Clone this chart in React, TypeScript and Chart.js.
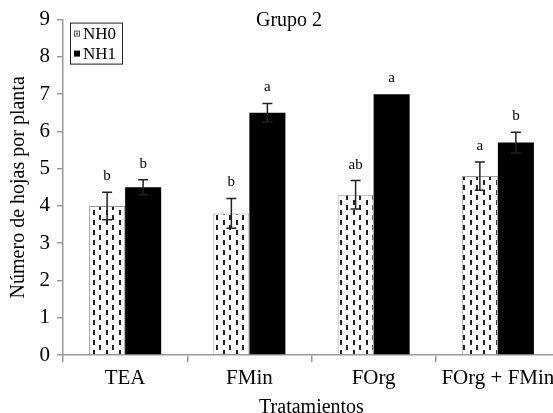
import React, { useEffect, useRef } from "react";
import { Chart, registerables } from "chart.js";

Chart.register(...registerables);

const categories = ["TEA", "FMin", "FOrg", "FOrg + FMin"];
const nh0Values = [4.0, 3.8, 4.3, 4.8];
const nh1Values = [4.5, 6.5, 7.0, 5.7];
const nh0Errors = [0.37, 0.4, 0.38, 0.38];
const nh1Errors = [0.2, 0.25, 0, 0.28];
const nh0Letters = ["b", "b", "ab", "a"];
const nh1Letters = ["b", "a", "a", "b"];
const seriesNames = ["NH0", "NH1"];
const chartTitle = "Grupo 2";
const yTitle = "Número de hojas por planta";
const xTitle = "Tratamientos";

const FONT = "'Liberation Serif', 'Times New Roman', serif";

function makePattern(): CanvasPattern | string {
  const c = document.createElement("canvas");
  c.width = 13;
  c.height = 10;
  const ctx = c.getContext("2d");
  if (!ctx) return "#fff";
  ctx.fillStyle = "#ffffff";
  ctx.fillRect(0, 0, 13, 10);
  ctx.fillStyle = "#222222";
  ctx.fillRect(2, 0, 2, 5);
  ctx.fillRect(8, 5, 2, 5);
  return ctx.createPattern(c, "repeat") || "#fff";
}

export default function App() {
  const ref = useRef<HTMLCanvasElement | null>(null);

  useEffect(() => {
    if (!ref.current) return;
    const pattern = makePattern();
    const errors = [nh0Errors, nh1Errors];
    const letters = [nh0Letters, nh1Letters];

    const overlay = {
      id: "overlay",
      afterDatasetsDraw(chart: any) {
        const ctx = chart.ctx;
        const y = chart.scales.y;
        const area = chart.chartArea;
        ctx.save();
        chart.data.datasets.forEach((ds: any, di: number) => {
          const meta = chart.getDatasetMeta(di);
          meta.data.forEach((el: any, i: number) => {
            const v = ds.data[i];
            const e = errors[di][i];
            const x = el.x;
            const yTop = y.getPixelForValue(v + e);
            const yBot = y.getPixelForValue(v - e);
            if (e > 0) {
              ctx.strokeStyle = "#222";
              ctx.lineWidth = 1.5;
              ctx.beginPath();
              ctx.moveTo(x, yTop);
              ctx.lineTo(x, yBot);
              ctx.moveTo(x - 5, yTop);
              ctx.lineTo(x + 5, yTop);
              ctx.moveTo(x - 5, yBot);
              ctx.lineTo(x + 5, yBot);
              ctx.stroke();
            }
            ctx.fillStyle = "#000";
            ctx.font = `15px ${FONT}`;
            ctx.textAlign = "center";
            ctx.textBaseline = "alphabetic";
            ctx.fillText(letters[di][i], x, yTop - 12);
          });
        });
        ctx.fillStyle = "#000";
        ctx.font = `20px ${FONT}`;
        ctx.textAlign = "center";
        ctx.textBaseline = "middle";
        ctx.fillText(chartTitle, area.left + 226, area.top + 1);
        const bx = area.left + 7;
        const by = area.top + 3;
        const bw = 52;
        const bh = 41;
        ctx.fillStyle = "#fff";
        ctx.fillRect(bx, by, bw, bh);
        ctx.strokeStyle = "#222";
        ctx.lineWidth = 1;
        ctx.strokeRect(bx + 0.5, by + 0.5, bw, bh);
        ctx.font = `17px ${FONT}`;
        ctx.textAlign = "left";
        ctx.textBaseline = "middle";
        seriesNames.forEach((n, i) => {
          const cy = by + 11 + i * 20;
          if (i === 0) {
            ctx.fillStyle = "#fff";
            ctx.fillRect(bx + 4, cy - 3, 6, 6);
            ctx.strokeStyle = "#555";
            ctx.strokeRect(bx + 4.5, cy - 2.5, 5, 5);
            ctx.fillStyle = "#555";
            ctx.fillRect(bx + 6, cy - 1, 2, 2);
          } else {
            ctx.fillStyle = "#000";
            ctx.fillRect(bx + 4, cy - 3, 6, 6);
          }
          ctx.fillStyle = "#000";
          ctx.fillText(n, bx + 13, cy + 1);
        });
        ctx.restore();
      },
    };

    const chart = new Chart(ref.current, {
      type: "bar",
      data: {
        labels: categories,
        datasets: [
          {
            label: seriesNames[0],
            data: nh0Values,
            backgroundColor: pattern as any,
            borderColor: "#999",
            borderWidth: 1,
            categoryPercentage: 0.58,
            barPercentage: 1.0,
          },
          {
            label: seriesNames[1],
            data: nh1Values,
            backgroundColor: "#000",
            borderColor: "#000",
            borderWidth: 0,
            categoryPercentage: 0.58,
            barPercentage: 1.0,
          },
        ],
      },
      options: {
        responsive: false,
        animation: false,
        devicePixelRatio: 1,
        layout: { padding: { top: 16, left: 0, right: 0, bottom: 0 } },
        plugins: {
          legend: { display: false },
          tooltip: { enabled: false },
          title: { display: false },
        },
        scales: {
          x: {
            grid: {
              display: true,
              drawOnChartArea: false,
              drawTicks: true,
              tickLength: 7,
              color: "#999",
              lineWidth: 1.5,
              offset: true,
            },
            border: { display: true, color: "#999", width: 1.5 },
            ticks: {
              color: "#000",
              font: { family: FONT, size: 21 },
              padding: 4,
              maxRotation: 0,
              autoSkip: false,
            },
            title: {
              display: true,
              text: xTitle,
              color: "#000",
              font: { family: FONT, size: 20, lineHeight: 1 },
              padding: { top: 0, bottom: -5 },
            },
            afterFit(scale: any) {
              scale.height = 58;
            },
          },
          y: {
            min: 0,
            max: 9,
            ticks: {
              stepSize: 1,
              color: "#000",
              font: { family: FONT, size: 21 },
              padding: 7,
            },
            grid: {
              display: true,
              drawOnChartArea: false,
              drawTicks: true,
              tickLength: 6,
              color: "#999",
              lineWidth: 1.5,
            },
            border: { display: true, color: "#999", width: 1.5 },
            title: {
              display: true,
              text: yTitle,
              color: "#000",
              font: { family: FONT, size: 20, lineHeight: 1.2 },
              padding: { top: 7, bottom: 0 },
            },
            afterFit(scale: any) {
              scale.width = 63;
            },
          },
        },
      },
      plugins: [overlay],
    });
    return () => chart.destroy();
  }, []);

  return (
    <div
      style={{
        position: "fixed",
        left: 0,
        top: 0,
        width: 553,
        height: 413,
        overflow: "hidden",
        background: "#fff",
      }}
    >
      <canvas
        ref={ref}
        width={560}
        height={413}
        style={{ width: 560, height: 413, display: "block" }}
      />
    </div>
  );
}
